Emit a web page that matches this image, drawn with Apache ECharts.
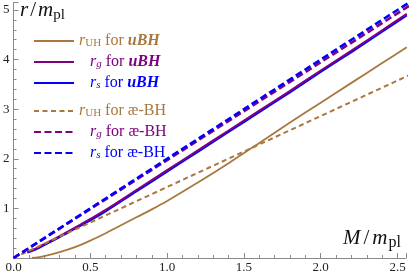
<!DOCTYPE html>
<html><head><meta charset="utf-8">
<script src="https://cdn.jsdelivr.net/npm/echarts@6/dist/echarts.min.js"></script>
<style>html,body{margin:0;padding:0;background:#fff}#c{width:409px;height:274px}</style>
</head><body><div id="c"></div>
<script>
// ---- data ----
const xTickLabels = ['0.0','0.5','1.0','1.5','2.0','2.5'];
const yTickLabels = ['1','2','3','4','5'];

const massUH_u = [0.12, 0.2, 0.3, 0.4, 0.5, 0.6, 0.7, 0.8, 0.9, 1.0, 1.2, 1.4, 1.6, 1.8, 2.0, 2.2, 2.4, 2.56];
const rUH_u    = [0.00, 0.04, 0.12, 0.22, 0.35, 0.50, 0.66, 0.82, 0.98, 1.15, 1.52, 1.91, 2.32, 2.73, 3.13, 3.53, 3.93, 4.25];

const massG_u = [0.09, 0.15, 0.2, 0.3, 0.4, 0.5, 0.6, 0.8, 1.0, 1.2, 1.4, 1.6, 1.8, 2.0, 2.2, 2.4, 2.56];
const rG_u    = [0.12, 0.20, 0.28, 0.44, 0.61, 0.79, 0.97, 1.37, 1.77, 2.17, 2.57, 2.97, 3.37, 3.78, 4.18, 4.59, 4.92];
const rS_u    = [0.11, 0.18, 0.26, 0.42, 0.59, 0.76, 0.94, 1.34, 1.74, 2.14, 2.54, 2.94, 3.34, 3.75, 4.15, 4.56, 4.89];

const massAe = [0, 2.6];
const rUH_ae = [0, 3.72];
const rG_ae  = [0, 5.13];
const rS_ae  = [0, 5.20];

const BROWN = '#a8783e', PURPLE = '#800080', BLUE = '#0000ff';
const SERIF = 'Liberation Serif';

function pairs(xs, ys){ return xs.map((x,i)=>[x, ys[i]]); }

const chart = echarts.init(document.getElementById('c'));

const rich = {
  pad1:{width:11, fontSize:16, lineHeight:16},
  it:{fontStyle:'italic', fontFamily:SERIF, fontSize:16, lineHeight:16},
  sub:{fontFamily:SERIF, fontSize:11, lineHeight:6, verticalAlign:'bottom'},
  subi:{fontStyle:'italic', fontFamily:SERIF, fontSize:11, lineHeight:6, verticalAlign:'bottom'},
  t:{fontFamily:SERIF, fontSize:16, lineHeight:16},
  b:{fontFamily:SERIF, fontSize:16, fontWeight:'bold', fontStyle:'italic', lineHeight:16}
};
const legendText = {
  'rUH_u':'{it|r}{sub|UH}{t| for }{b|uBH}',
  'rg_u': '{pad1| }{it|r}{subi|g}{t| for }{b|uBH}',
  'rs_u': '{pad1| }{it|r}{subi|s}{t| for }{b|uBH}',
  'rUH_a':'{it|r}{sub|UH}{t| for æ-BH}',
  'rg_a': '{pad1| }{it|r}{subi|g}{t| for æ-BH}',
  'rs_a': '{pad1| }{it|r}{subi|s}{t| for æ-BH}'
};
function legendCfg(top, items){
  return {
    orient:'vertical', left:28, top:top, itemWidth:40, itemHeight:14, itemGap:5,
    selectedMode:false,
    itemStyle:{opacity:0},
    data: items.map(d=>({name:d[0], textStyle:{color:d[1]}})),
    formatter: n => legendText[n],
    textStyle:{fontFamily:SERIF, fontSize:16, rich:rich}
  };
}

const axisGray = '#8a8a8a';
const titleRich = {
  i:{fontFamily:SERIF, fontStyle:'italic', fontSize:21, lineHeight:24, fill:'#111'},
  n:{fontFamily:SERIF, fontSize:21, lineHeight:24, fill:'#111', padding:[0,2,0,2]},
  s:{fontFamily:SERIF, fontSize:15, lineHeight:10, verticalAlign:'bottom', fill:'#111'}
};
const titleRichX = {
  i:{fontFamily:SERIF, fontStyle:'italic', fontSize:21, lineHeight:24, fill:'#111'},
  n:{fontFamily:SERIF, fontSize:21, lineHeight:24, fill:'#111', padding:[0,3,0,3]},
  s:{fontFamily:SERIF, fontSize:16, lineHeight:10, verticalAlign:'bottom', fill:'#111', padding:[0,0,0,1]}
};

chart.setOption({
  animation:false,
  backgroundColor:'#fff',
  grid:{left:10.5, right:0, top:2.5, bottom:14, containLabel:false},
  xAxis:{
    type:'value', min:0, max:2.555, interval:0.5,
    axisLine:{show:true, onZero:false, lineStyle:{color:axisGray, width:1}},
    axisTick:{show:true, inside:true, length:5, lineStyle:{color:axisGray}},
    minorTick:{show:true, splitNumber:5, length:3, lineStyle:{color:axisGray}},
    splitLine:{show:false},
    axisLabel:{margin:3, fontFamily:SERIF, fontSize:13, color:'#222',
      formatter:v=>{ const k=Math.round(v/0.5); return Math.abs(v-k*0.5)<1e-6 ? (xTickLabels[k]||'') : ''; }}
  },
  yAxis:{
    type:'value', min:0, max:5.15, interval:1,
    axisLine:{show:true, onZero:false, lineStyle:{color:axisGray, width:1}},
    axisTick:{show:true, inside:true, length:5, lineStyle:{color:axisGray}},
    minorTick:{show:true, splitNumber:5, length:3, lineStyle:{color:axisGray}},
    splitLine:{show:false},
    axisLabel:{margin:4, fontFamily:SERIF, fontSize:13, color:'#222',
      formatter:v=>{ const k=Math.round(v); return (Math.abs(v-k)<1e-6 && k>=1) ? (yTickLabels[k-1]||'') : ''; }}
  },
  legend:[
    legendCfg(28, [['rUH_u',BROWN],['rg_u',PURPLE],['rs_u',BLUE]]),
    legendCfg(98,[['rUH_a',BROWN],['rg_a',PURPLE],['rs_a',BLUE]])
  ],
  graphic:[
    {type:'text', left:20, top:0, style:{text:'{i|r}{n|/}{i|m}{s|pl}', rich:titleRich}},
    {type:'text', left:343, top:228, style:{text:'{i|M}{n|/}{i|m}{s|pl}', rich:titleRichX}}
  ],
  series:[
    {name:'rUH_u', type:'line', symbol:'none', smooth:0.3, data:pairs(massUH_u, rUH_u), lineStyle:{color:BROWN, width:1.8}, itemStyle:{color:BROWN}},
    {name:'rs_u', type:'line', symbol:'none', smooth:0.3, data:pairs(massG_u, rS_u), lineStyle:{color:BLUE, width:2}, itemStyle:{color:BLUE}},
    {name:'rg_u', type:'line', symbol:'none', smooth:0.3, data:pairs(massG_u, rG_u), lineStyle:{color:PURPLE, width:2}, itemStyle:{color:PURPLE}},
    {name:'rUH_a', type:'line', symbol:'none', data:pairs(massAe, rUH_ae), lineStyle:{color:BROWN, width:2, type:[5,3.5]}, itemStyle:{color:BROWN}},
    {name:'rg_a', type:'line', symbol:'none', data:pairs(massAe, rG_ae), lineStyle:{color:PURPLE, width:2.6, type:[7,3.5]}, itemStyle:{color:PURPLE}},
    {name:'rs_a', type:'line', symbol:'none', data:pairs(massAe, rS_ae), lineStyle:{color:BLUE, width:2.6, type:[7,3.5]}, itemStyle:{color:BLUE}}
  ]
});
</script></body></html>
